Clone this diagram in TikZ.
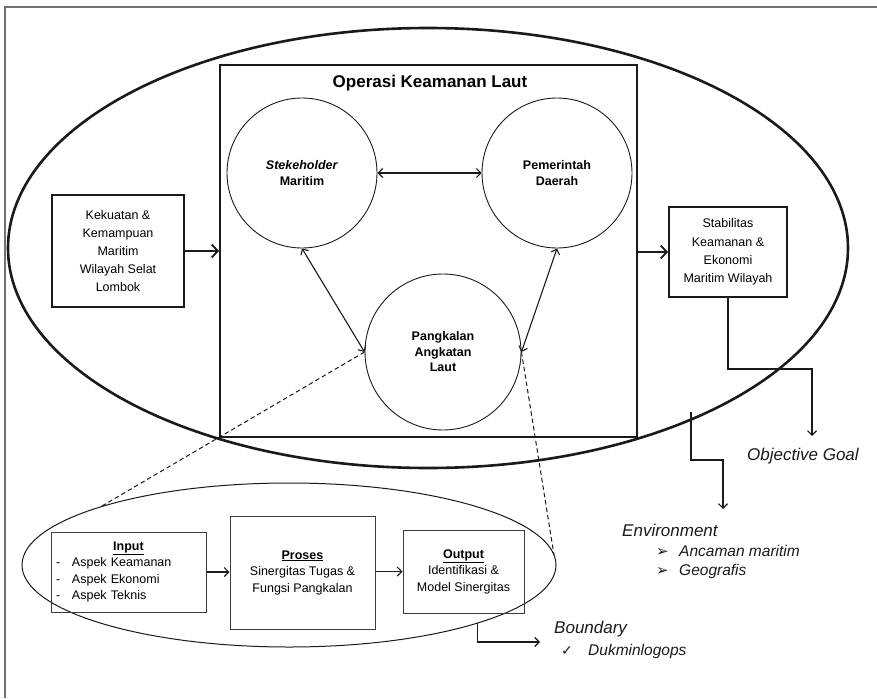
\documentclass[tikz,border=0pt]{standalone}
\usepackage{fontspec}
\setmainfont{Liberation Sans}
\newfontfamily\symfont{DejaVu Sans}
\usetikzlibrary{positioning,arrows.meta,shapes.geometric,calc}
\definecolor{ink}{HTML}{1A1A1A}
\definecolor{framegray}{HTML}{707070}
\tikzset{
  >={Straight Barb[length=4.5pt,width=9pt]},
  flow/.style={->, line width=1.1pt, draw=ink},
  wide flow/.style={line width=1.8pt, draw=ink, -{Straight Barb[length=6pt,width=13pt]}},
  zoom line/.style={dash pattern=on 4.5pt off 3pt, line width=1pt, draw=ink},
  box/.style={draw=ink, line width=2pt, align=center, inner sep=2pt,
              font=\fontsize{12.5}{18.2}\selectfont},
  subbox/.style={draw=ink!85, line width=1pt, align=center, inner sep=2pt,
              font=\fontsize{12.5}{16.5}\selectfont},
  actor/.style={circle, draw=ink, line width=0.9pt, minimum size=150pt, align=center,
                inner sep=0pt, font=\fontsize{12.5}{15.5}\selectfont\bfseries},
  ring/.style={ellipse, draw=ink, line width=2.6pt, inner sep=0pt},
  zone/.style={ellipse, draw=ink, line width=1pt, inner sep=0pt},
  caption/.style={font=\fontsize{17}{20}\selectfont\itshape, text=ink, anchor=west, inner sep=0pt},
  item/.style={font=\fontsize{15.5}{18}\selectfont\itshape, text=ink, anchor=west, inner sep=0pt},
}
\newcommand{\bulletmark}[1]{\makebox[23pt][l]{\upshape\symfont\fontsize{15}{16}\selectfont #1}}

\begin{document}
\begin{tikzpicture}[x=1pt, y=-1pt]
\useasboundingbox (0,0) rectangle (877,698);
\draw[draw=framegray, line width=1.6pt] (5,698) -- (5,7) -- (877,7);

% --- outer system ----------------------------------------------------------------
\node[ring, minimum width=840pt, minimum height=440pt] (sea) at (428,248) {};
\node[box, minimum width=417pt, minimum height=372pt] (ops) at (428.5,251) {};
\node[font=\fontsize{17}{20}\selectfont\bfseries, inner sep=0pt] (opstitle) at (430,83) {Operasi Keamanan Laut};

\node[actor] (stake) at (302,173) {\textit{Stekeholder}\\Maritim};
\node[actor] (pemda) at (557,173) {Pemerintah\\Daerah};
\node[actor, minimum size=156pt] (lanal) at (443,352) {Pangkalan\\Angkatan\\Laut};

\node[box, minimum width=132pt, minimum height=112pt] (kekuatan) at (118,251)
  {Kekuatan \&\\Kemampuan\\Maritim\\Wilayah Selat\\Lombok};
\node[box, minimum width=118pt, minimum height=90pt] (stabil) at (728,252)
  {Stabilitas\\Keamanan \&\\Ekonomi\\Maritim Wilayah};

\draw[wide flow] (kekuatan.east) -- (kekuatan.east -| ops.west);
\draw[wide flow] (ops.east |- stabil.west) -- (stabil.west);
\draw[flow, <->] (stake.east) -- (pemda.west);
\draw[flow, <->] (stake.south) -- (lanal.west);
\draw[flow, <->] (pemda.south) -- (lanal.east);

% --- detail of the base ------------------------------------------------------------
\node[zone, minimum width=534pt, minimum height=164pt] (detail) at (289,565) {};
\node[subbox, minimum width=155pt, minimum height=80pt, text width=145pt, align=left] (input) at (128.5,572)
  {\centerline{\bfseries\underline{Input}}\par
   \makebox[16pt][l]{-}Aspek Keamanan\\
   \makebox[16pt][l]{-}Aspek Ekonomi\\
   \makebox[16pt][l]{-}Aspek Teknis};
\node[subbox, minimum width=145pt, minimum height=113pt] (proses) at (302.5,572.5)
  {\textbf{\underline{Proses}}\\Sinergitas Tugas \&\\Fungsi Pangkalan};
\node[subbox, minimum width=121pt, minimum height=83pt] (output) at (463.5,571.5)
  {\textbf{\underline{Output}}\\Identifikasi \&\\Model Sinergitas};

\draw[flow] (input.east) -- (input.east -| proses.west);
\draw[flow] (output.west -| proses.east) -- (output.west);

\coordinate (zoomL) at ($(detail.center)+(-135:267 and 82)$);
\coordinate (zoomR) at ($(detail.center)+(-7:267 and 82)$);
\draw[zoom line] (lanal.west) -- (zoomL);
\draw[zoom line] (lanal.east) -- (zoomR);

% --- goal, environment, boundary --------------------------------------------------
\coordinate (goaltip) at (812,436);
\draw[flow] (stabil.south) -- ++(0,71) -| (goaltip);
\node[caption] (goal) at (747,456) {Objective Goal};

\coordinate (envtop) at (691,412);
\coordinate (envtip) at (723,509);
\draw[flow] (envtop) -- ++(0,48) -| (envtip);
\node[caption] (env) at (622,530) {Environment};
\node[item] (threat) at (656,551) {\bulletmark{➢}Ancaman maritim};
\node[item] (geo) at (656,571) {\bulletmark{➢}Geografis};

\coordinate (bndtop) at ($(detail.center)+(45:267 and 82)$);
\coordinate (bndtip) at (540,642);
\draw[flow] (bndtop) |- (bndtip);
\node[caption] (bnd) at (554,629) {Boundary};
\node[item] (dukm) at (561,651) {\makebox[27pt][l]{\upshape\symfont\fontsize{14}{16}\selectfont ✓}Dukminlogops};

\end{tikzpicture}
\end{document}
